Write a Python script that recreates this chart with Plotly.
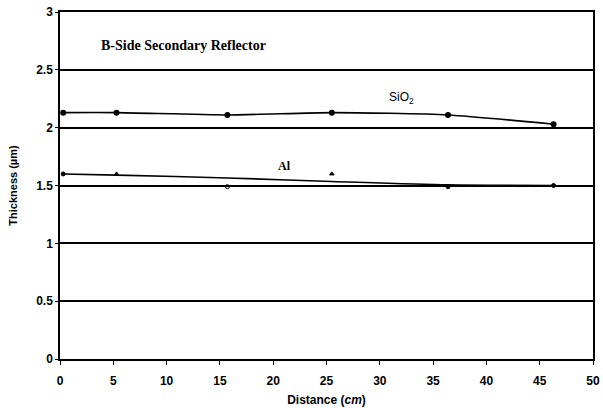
import plotly.graph_objects as go

# Measured film thickness along the B-side secondary reflector
distance = [0.3, 5.3, 15.7, 25.5, 36.4, 46.3]
sio2_thickness = [2.13, 2.13, 2.11, 2.13, 2.11, 2.03]

al_distance = [0.3, 5.3, 15.7, 25.5, 36.4, 46.3]
al_thickness = [1.60, 1.60, 1.49, 1.60, 1.49, 1.50]
al_markers = ["circle", "triangle-up", "circle-open", "triangle-up", "circle", "circle"]

# Smoothed trend drawn through the Al measurements
al_trend_x = [0.3, 5.3, 15.7, 25.5, 36.4, 46.3]
al_trend_y = [1.60, 1.59, 1.565, 1.535, 1.505, 1.50]

x_ticks = [0, 5, 10, 15, 20, 25, 30, 35, 40, 45, 50]
y_ticks = [0, 0.5, 1, 1.5, 2, 2.5, 3]
y_labels = ["0", "0.5", "1", "1.5", "2", "2.5", "3"]

fig = go.Figure()

fig.add_trace(go.Scatter(
    x=distance, y=sio2_thickness, mode="lines+markers",
    line=dict(color="black", width=1.6, shape="spline", smoothing=0.6),
    marker=dict(symbol="circle", size=6, color="black"),
    showlegend=False, cliponaxis=False,
))

fig.add_trace(go.Scatter(
    x=al_trend_x, y=al_trend_y, mode="lines",
    line=dict(color="black", width=1.6, shape="spline", smoothing=0.8),
    showlegend=False,
))

fig.add_trace(go.Scatter(
    x=al_distance, y=al_thickness, mode="markers",
    marker=dict(symbol=al_markers, size=4, color="black",
                line=dict(color="black", width=1)),
    showlegend=False, cliponaxis=False,
))

tick_font = dict(family="Liberation Sans, Arial", size=12, color="black", weight="bold")

fig.update_layout(
    width=603, height=408,
    margin=dict(l=60, r=10, t=12, b=49),
    paper_bgcolor="white", plot_bgcolor="white",
    font=dict(family="Liberation Sans, Arial", color="black"),
    xaxis=dict(
        range=[0, 50], tickvals=x_ticks, ticktext=[str(v) for v in x_ticks],
        showgrid=False, zeroline=False, automargin=False,
        showline=True, linecolor="black", linewidth=1.5, mirror=True,
        ticks="outside", ticklen=4, tickcolor="black", ticklabelstandoff=6,
        tickfont=tick_font,
        title=dict(text="Distance (<i>cm</i>)", standoff=8,
                   font=dict(family="Liberation Sans", size=12, color="black", weight="bold")),
    ),
    yaxis=dict(
        range=[0, 3], tickvals=y_ticks, ticktext=y_labels,
        showgrid=True, gridcolor="black", gridwidth=1.5, zeroline=False, automargin=False,
        showline=True, linecolor="black", linewidth=1.5, mirror=True,
        ticks="outside", ticklen=3, tickcolor="black",
        tickfont=tick_font,
        title=dict(text="Thickness (µm)", standoff=16,
                   font=dict(family="Liberation Sans", size=11, color="black", weight="bold")),
    ),
    annotations=[
        dict(x=3.7, y=2.71, xref="x", yref="y", xanchor="left", yanchor="middle",
             text="B-Side Secondary Reflector", showarrow=False,
             font=dict(family="Liberation Serif, Times New Roman", size=14,
                       color="black", weight="bold")),
        dict(x=32.0, y=2.26, xref="x", yref="y", xanchor="center", yanchor="middle",
             text="SiO<sub>2</sub>", showarrow=False,
             font=dict(family="Liberation Sans", size=12, color="black")),
        dict(x=21.1, y=1.665, xref="x", yref="y", xanchor="center", yanchor="middle",
             text="Al", showarrow=False,
             font=dict(family="Liberation Serif", size=12, color="black", weight="bold")),
    ],
)

fig.write_html("out.html")
